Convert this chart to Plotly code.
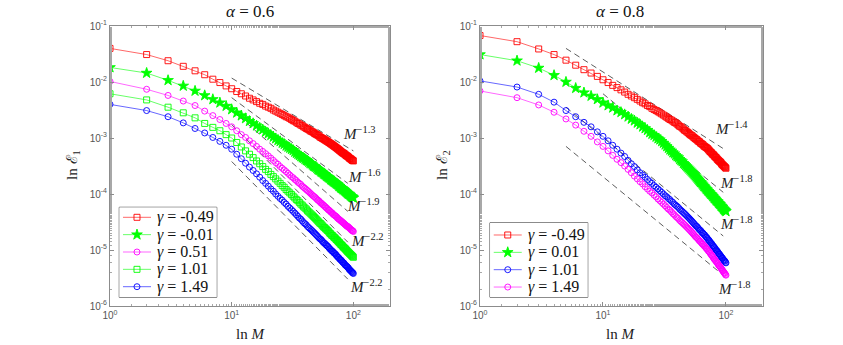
import numpy as np
import plotly.graph_objects as go
from plotly.subplots import make_subplots

# number of terms M (x axis)
M = list(range(1, 101))

# log10 of the error -- alpha = 0.6 panel
lg1_m049 = [-1.40, -1.51, -1.62, -1.72, -1.80, -1.87, -1.95, -2.01, -2.07, -2.12,
            -2.17, -2.21, -2.25, -2.29, -2.32, -2.35, -2.38, -2.40, -2.43, -2.45,
            -2.47, -2.50, -2.52, -2.54, -2.56, -2.58, -2.60, -2.62, -2.63, -2.65,
            -2.67, -2.69, -2.70, -2.72, -2.74, -2.75, -2.77, -2.78, -2.80, -2.81,
            -2.83, -2.84, -2.85, -2.87, -2.88, -2.89, -2.90, -2.92, -2.93, -2.94,
            -2.95, -2.96, -2.98, -2.99, -3.00, -3.01, -3.02, -3.03, -3.04, -3.05,
            -3.06, -3.07, -3.08, -3.09, -3.10, -3.11, -3.12, -3.13, -3.14, -3.15,
            -3.16, -3.17, -3.18, -3.19, -3.20, -3.21, -3.22, -3.23, -3.24, -3.25,
            -3.26, -3.27, -3.27, -3.28, -3.29, -3.30, -3.31, -3.32, -3.32, -3.33,
            -3.34, -3.35, -3.36, -3.37, -3.37, -3.38, -3.39, -3.40, -3.40, -3.41]
lg1_m001 = [-1.74, -1.84, -1.97, -2.07, -2.16, -2.24, -2.31, -2.37, -2.43, -2.49,
            -2.55, -2.60, -2.65, -2.70, -2.74, -2.78, -2.82, -2.85, -2.89, -2.92,
            -2.95, -2.98, -3.01, -3.04, -3.06, -3.09, -3.11, -3.14, -3.16, -3.18,
            -3.20, -3.22, -3.25, -3.27, -3.29, -3.31, -3.33, -3.35, -3.36, -3.38,
            -3.40, -3.41, -3.43, -3.45, -3.46, -3.48, -3.50, -3.51, -3.52, -3.54,
            -3.56, -3.57, -3.58, -3.60, -3.61, -3.62, -3.64, -3.65, -3.66, -3.68,
            -3.69, -3.70, -3.71, -3.72, -3.74, -3.75, -3.76, -3.77, -3.78, -3.79,
            -3.80, -3.81, -3.82, -3.83, -3.84, -3.86, -3.86, -3.88, -3.89, -3.90,
            -3.90, -3.92, -3.92, -3.93, -3.94, -3.95, -3.96, -3.97, -3.98, -3.99,
            -4.00, -4.00, -4.01, -4.02, -4.03, -4.04, -4.05, -4.05, -4.06, -4.07]
lg1_p051 = [-1.99, -2.13, -2.24, -2.34, -2.42, -2.52, -2.60, -2.67, -2.74, -2.80,
            -2.87, -2.94, -2.99, -3.05, -3.10, -3.15, -3.20, -3.24, -3.28, -3.32,
            -3.36, -3.40, -3.44, -3.47, -3.51, -3.54, -3.57, -3.60, -3.63, -3.66,
            -3.69, -3.71, -3.74, -3.76, -3.79, -3.81, -3.83, -3.86, -3.88, -3.90,
            -3.92, -3.94, -3.96, -3.98, -4.00, -4.02, -4.04, -4.05, -4.07, -4.09,
            -4.11, -4.12, -4.14, -4.16, -4.17, -4.19, -4.20, -4.22, -4.23, -4.25,
            -4.26, -4.28, -4.29, -4.30, -4.32, -4.33, -4.34, -4.36, -4.37, -4.38,
            -4.39, -4.40, -4.41, -4.43, -4.44, -4.45, -4.46, -4.47, -4.48, -4.49,
            -4.50, -4.51, -4.52, -4.53, -4.54, -4.55, -4.56, -4.57, -4.58, -4.58,
            -4.59, -4.60, -4.61, -4.62, -4.63, -4.64, -4.65, -4.65, -4.66, -4.67]
lg1_p101 = [-2.21, -2.32, -2.45, -2.55, -2.64, -2.74, -2.81, -2.87, -2.94, -3.00,
            -3.08, -3.16, -3.23, -3.29, -3.35, -3.41, -3.46, -3.51, -3.56, -3.60,
            -3.65, -3.69, -3.73, -3.77, -3.81, -3.85, -3.88, -3.92, -3.95, -3.98,
            -4.01, -4.04, -4.07, -4.10, -4.12, -4.15, -4.18, -4.20, -4.23, -4.25,
            -4.27, -4.30, -4.32, -4.34, -4.36, -4.38, -4.40, -4.42, -4.44, -4.46,
            -4.48, -4.50, -4.52, -4.53, -4.55, -4.57, -4.59, -4.60, -4.62, -4.63,
            -4.65, -4.66, -4.68, -4.70, -4.71, -4.73, -4.74, -4.75, -4.77, -4.78,
            -4.79, -4.81, -4.82, -4.83, -4.85, -4.86, -4.87, -4.89, -4.90, -4.91,
            -4.92, -4.94, -4.95, -4.96, -4.97, -4.98, -5.00, -5.00, -5.02, -5.03,
            -5.04, -5.05, -5.06, -5.07, -5.08, -5.09, -5.10, -5.11, -5.12, -5.13]
lg1_p149 = [-2.40, -2.51, -2.62, -2.73, -2.83, -2.91, -2.99, -3.06, -3.13, -3.20,
            -3.29, -3.37, -3.45, -3.52, -3.58, -3.64, -3.70, -3.76, -3.81, -3.86,
            -3.91, -3.95, -4.00, -4.04, -4.08, -4.11, -4.15, -4.18, -4.22, -4.25,
            -4.28, -4.31, -4.34, -4.37, -4.40, -4.43, -4.45, -4.48, -4.51, -4.53,
            -4.55, -4.58, -4.60, -4.62, -4.64, -4.66, -4.68, -4.70, -4.72, -4.74,
            -4.76, -4.78, -4.80, -4.81, -4.83, -4.85, -4.87, -4.88, -4.90, -4.91,
            -4.93, -4.94, -4.96, -4.98, -4.99, -5.01, -5.02, -5.03, -5.05, -5.06,
            -5.07, -5.09, -5.10, -5.12, -5.13, -5.14, -5.16, -5.17, -5.18, -5.19,
            -5.21, -5.22, -5.23, -5.24, -5.26, -5.27, -5.28, -5.29, -5.30, -5.31,
            -5.32, -5.34, -5.35, -5.36, -5.37, -5.38, -5.39, -5.40, -5.41, -5.42]

# alpha = 0.8 panel
lg2_m049 = [-1.17, -1.28, -1.41, -1.51, -1.61, -1.70, -1.78, -1.84, -1.90, -1.96,
            -2.01, -2.06, -2.10, -2.14, -2.18, -2.22, -2.25, -2.28, -2.31, -2.34,
            -2.37, -2.39, -2.42, -2.44, -2.47, -2.49, -2.51, -2.53, -2.55, -2.57,
            -2.59, -2.61, -2.63, -2.65, -2.67, -2.68, -2.70, -2.72, -2.73, -2.75,
            -2.77, -2.79, -2.80, -2.82, -2.84, -2.86, -2.87, -2.89, -2.90, -2.92,
            -2.94, -2.95, -2.96, -2.98, -2.99, -3.01, -3.02, -3.03, -3.05, -3.06,
            -3.07, -3.09, -3.10, -3.11, -3.12, -3.14, -3.15, -3.16, -3.17, -3.18,
            -3.19, -3.21, -3.22, -3.24, -3.25, -3.26, -3.28, -3.29, -3.30, -3.31,
            -3.33, -3.34, -3.35, -3.36, -3.38, -3.39, -3.40, -3.41, -3.42, -3.43,
            -3.44, -3.46, -3.47, -3.48, -3.49, -3.50, -3.51, -3.52, -3.53, -3.54]
lg2_p001 = [-1.51, -1.62, -1.75, -1.88, -2.00, -2.11, -2.19, -2.25, -2.31, -2.37,
            -2.42, -2.46, -2.51, -2.54, -2.58, -2.62, -2.66, -2.69, -2.73, -2.76,
            -2.80, -2.83, -2.86, -2.90, -2.93, -2.95, -2.98, -3.01, -3.03, -3.06,
            -3.09, -3.12, -3.15, -3.18, -3.21, -3.23, -3.26, -3.28, -3.31, -3.33,
            -3.35, -3.38, -3.40, -3.42, -3.45, -3.47, -3.49, -3.51, -3.53, -3.55,
            -3.57, -3.59, -3.61, -3.63, -3.65, -3.67, -3.69, -3.71, -3.73, -3.75,
            -3.77, -3.79, -3.80, -3.82, -3.84, -3.86, -3.87, -3.89, -3.91, -3.92,
            -3.94, -3.95, -3.97, -3.98, -4.00, -4.01, -4.02, -4.04, -4.05, -4.07,
            -4.08, -4.09, -4.11, -4.12, -4.13, -4.14, -4.16, -4.17, -4.18, -4.19,
            -4.21, -4.22, -4.23, -4.24, -4.26, -4.27, -4.28, -4.29, -4.30, -4.31]
lg2_p101 = [-1.98, -2.09, -2.22, -2.36, -2.51, -2.62, -2.72, -2.80, -2.89, -2.97,
            -3.05, -3.13, -3.20, -3.27, -3.33, -3.40, -3.46, -3.51, -3.57, -3.62,
            -3.66, -3.70, -3.74, -3.78, -3.81, -3.85, -3.88, -3.91, -3.94, -3.97,
            -4.00, -4.03, -4.05, -4.08, -4.10, -4.13, -4.15, -4.18, -4.20, -4.22,
            -4.24, -4.27, -4.29, -4.31, -4.33, -4.35, -4.37, -4.39, -4.41, -4.43,
            -4.45, -4.47, -4.49, -4.51, -4.53, -4.55, -4.57, -4.58, -4.60, -4.62,
            -4.64, -4.65, -4.67, -4.69, -4.70, -4.72, -4.73, -4.75, -4.77, -4.78,
            -4.80, -4.82, -4.83, -4.85, -4.87, -4.88, -4.90, -4.92, -4.93, -4.95,
            -4.96, -4.98, -5.00, -5.01, -5.02, -5.04, -5.06, -5.07, -5.08, -5.10,
            -5.11, -5.13, -5.14, -5.15, -5.17, -5.18, -5.19, -5.20, -5.22, -5.23]
lg2_p149 = [-2.16, -2.28, -2.41, -2.54, -2.66, -2.77, -2.88, -2.97, -3.07, -3.15,
            -3.23, -3.31, -3.38, -3.44, -3.50, -3.56, -3.62, -3.68, -3.73, -3.78,
            -3.82, -3.87, -3.91, -3.95, -3.98, -4.02, -4.05, -4.09, -4.12, -4.15,
            -4.18, -4.21, -4.24, -4.27, -4.29, -4.32, -4.35, -4.37, -4.40, -4.42,
            -4.44, -4.47, -4.49, -4.51, -4.53, -4.55, -4.57, -4.59, -4.61, -4.63,
            -4.65, -4.67, -4.69, -4.71, -4.73, -4.75, -4.77, -4.78, -4.80, -4.82,
            -4.84, -4.85, -4.87, -4.89, -4.90, -4.92, -4.93, -4.95, -4.97, -4.98,
            -5.00, -5.02, -5.03, -5.05, -5.07, -5.09, -5.10, -5.12, -5.14, -5.16,
            -5.17, -5.19, -5.20, -5.22, -5.23, -5.25, -5.27, -5.28, -5.29, -5.31,
            -5.32, -5.34, -5.35, -5.37, -5.38, -5.40, -5.41, -5.42, -5.44, -5.45]

# reference slopes (dashed): end points in M and log10 of error
ref1_m = [[10, 100], [10, 90], [10, 90], [10, 90], [10, 90]]
ref1_lg = [[-1.93, -3.23], [-2.28, -3.81], [-2.50, -4.31], [-2.76, -4.86], [-3.42, -5.52]]
ref1_txt = ["-1.3", "-1.6", "-1.9", "-2.2", "-2.2"]
ref1_pos = [[2.053, -2.91], [2.09, -3.67], [2.082, -4.19], [2.115, -4.82], [2.107, -5.64]]

ref2_m = [[5, 100], [10, 95], [5, 95], [5, 95]]
ref2_lg = [[-1.40, -3.22], [-2.21, -3.97], [-2.45, -4.75], [-3.15, -5.45]]
ref2_txt = ["-1.4", "-1.8", "-1.8", "-1.8"]
ref2_pos = [[2.041, -2.82], [2.082, -3.78], [2.082, -4.51], [2.073, -5.67]]

panel1 = [("-0.49", lg1_m049, "#ff0000", "square-open"),
          ("-0.01", lg1_m001, "#00ff00", "star"),
          ("0.51", lg1_p051, "#ff00ff", "circle-open"),
          ("1.01", lg1_p101, "#00ff00", "square-open"),
          ("1.49", lg1_p149, "#0000ff", "circle-open")]
panel2 = [("-0.49", lg2_m049, "#ff0000", "square-open"),
          ("0.01", lg2_p001, "#00ff00", "star"),
          ("1.01", lg2_p101, "#0000ff", "circle-open"),
          ("1.49", lg2_p149, "#ff00ff", "circle-open")]

SERIF = "Liberation Serif, Times New Roman, DejaVu Serif, serif"
fig = make_subplots(rows=1, cols=2)


def msize(sym):
    return 8 if sym == "star" else 6


for col, refm, reflg in [(1, ref1_m, ref1_lg), (2, ref2_m, ref2_lg)]:
    for xm, yl in zip(refm, reflg):
        fig.add_trace(go.Scatter(x=xm, y=[10 ** v for v in yl], mode="lines",
                                 line=dict(color="#333333", width=0.8, dash="6px,4px"),
                                 showlegend=False, hoverinfo="skip"), row=1, col=col)

for col, panel in [(1, panel1), (2, panel2)]:
    for gam, lg, color, sym in panel:
        fig.add_trace(go.Scatter(
            x=M, y=[10 ** v for v in lg], mode="lines+markers", showlegend=False,
            line=dict(color=color, width=0.6),
            marker=dict(symbol=sym, size=msize(sym), color=color,
                        line=dict(color=color, width=0.9))), row=1, col=col)

tick_x = ["10<sup>0</sup>", "10<sup>1</sup>", "10<sup>2</sup>"]
tick_y = ["10<sup>-%d</sup>" % k for k in range(6, 0, -1)]
axcol = "#8c8c8c"
mincol = "#a8a8a8"
ydom = [39 / 345, 319 / 345]
for i, dom in [(1, [110 / 843, 390 / 843]), (2, [480 / 843, 763 / 843])]:
    fig.update_xaxes(type="log", range=[0, np.log10(200)], domain=dom,
                     tickvals=[1, 10, 100], ticktext=tick_x,
                     ticks="inside", ticklen=4, tickcolor=axcol, tickwidth=1,
                     minor=dict(ticks="inside", ticklen=2, tickcolor=mincol, tickwidth=0.8,
                                showgrid=False),
                     showline=True, linecolor=axcol, linewidth=1, mirror="allticks",
                     showgrid=False, zeroline=False, automargin=False,
                     tickfont=dict(family="Liberation Sans", size=10, color="#555555"),
                     row=1, col=i)
    fig.update_yaxes(type="log", range=[-6, -1], domain=ydom,
                     tickvals=[10 ** -k for k in range(6, 0, -1)], ticktext=tick_y,
                     ticks="inside", ticklen=4, tickcolor=axcol, tickwidth=1,
                     minor=dict(ticks="inside", ticklen=2, tickcolor=mincol, tickwidth=0.8,
                                showgrid=False),
                     showline=True, linecolor=axcol, linewidth=1, mirror="allticks",
                     showgrid=False, zeroline=False, automargin=False,
                     tickfont=dict(family="Liberation Sans", size=10, color="#555555"),
                     row=1, col=i)

ann = []
for xr, yr, txts, poss in [("x", "y", ref1_txt, ref1_pos), ("x2", "y2", ref2_txt, ref2_pos)]:
    for t, p in zip(txts, poss):
        ann.append(dict(x=p[0], y=p[1], xref=xr, yref=yr, showarrow=False,
                        xanchor="center", yanchor="middle",
                        text="<i>M</i><sup>" + t.replace("-", "−") + "</sup>",
                        font=dict(family=SERIF, size=15, color="#222222")))

for xc, title in [(0.2966, "<i>α</i> = 0.6"), (0.7355, "<i>α</i> = 0.8")]:
    ann.append(dict(x=xc, y=0.968, xref="paper", yref="paper", showarrow=False,
                    xanchor="center", yanchor="middle",
                    text=title, font=dict(family=SERIF, size=17, color="#111111")))
    ann.append(dict(x=xc, y=0.032, xref="paper", yref="paper", showarrow=False,
                    xanchor="center", yanchor="middle",
                    text="ln <i>M</i>", font=dict(family=SERIF, size=15, color="#222222")))
for xc, lab in [(0.0866, "ln ℰ<sub>1</sub>"), (0.5255, "ln ℰ<sub>2</sub>")]:
    ann.append(dict(x=xc, y=0.522, xref="paper", yref="paper", showarrow=False, textangle=-90,
                    xanchor="center", yanchor="middle",
                    text=lab, font=dict(family=SERIF, size=15, color="#222222")))

# legend boxes drawn on small helper axes measured in pixels
leg_boxes = [("x3", "y3", [0.1415, 0.2571], [0.1383, 0.3991], 97.4, 90.0, 10.0, panel1),
             ("x4", "y4", [0.5813, 0.6972], [0.1383, 0.3545], 97.7, 74.6, 12.3, panel2)]
shapes = []
for xr, yr, xd, yd, w, h, y0, panel in leg_boxes:
    n = xr[1:]
    fig.update_layout(**{
        "xaxis" + n: dict(domain=xd, range=[0, w], visible=False, anchor=yr, fixedrange=True),
        "yaxis" + n: dict(domain=yd, range=[h, 0], visible=False, anchor=xr, fixedrange=True),
    })
    shapes.append(dict(type="rect", xref="paper", yref="paper", x0=xd[0], x1=xd[1],
                       y0=yd[0], y1=yd[1], line=dict(color="#333333", width=1),
                       fillcolor="white", layer="below"))
    for k, (gam, lg, color, sym) in enumerate(panel):
        yy = y0 + 17.35 * k
        fig.add_trace(go.Scatter(x=[3.7, 31.7], y=[yy, yy], mode="lines", showlegend=False,
                                 line=dict(color=color, width=0.6), hoverinfo="skip",
                                 xaxis=xr, yaxis=yr))
        fig.add_trace(go.Scatter(x=[17.7], y=[yy], mode="markers", showlegend=False,
                                 marker=dict(symbol=sym, size=msize(sym), color=color,
                                             line=dict(color=color, width=0.9)),
                                 hoverinfo="skip", xaxis=xr, yaxis=yr))
        ann.append(dict(x=35.5, y=yy, xref=xr, yref=yr, showarrow=False,
                        xanchor="left", yanchor="middle",
                        text="<i>γ</i> = " + gam,
                        font=dict(family=SERIF, size=16, color="#111111")))

fig.update_layout(
    width=843, height=345, margin=dict(l=0, r=0, t=0, b=0),
    paper_bgcolor="white", plot_bgcolor="white",
    annotations=ann, shapes=shapes, showlegend=False,
)

fig.write_html("out.html", config={"displayModeBar": False},
               post_script="document.body.style.margin='0';")
